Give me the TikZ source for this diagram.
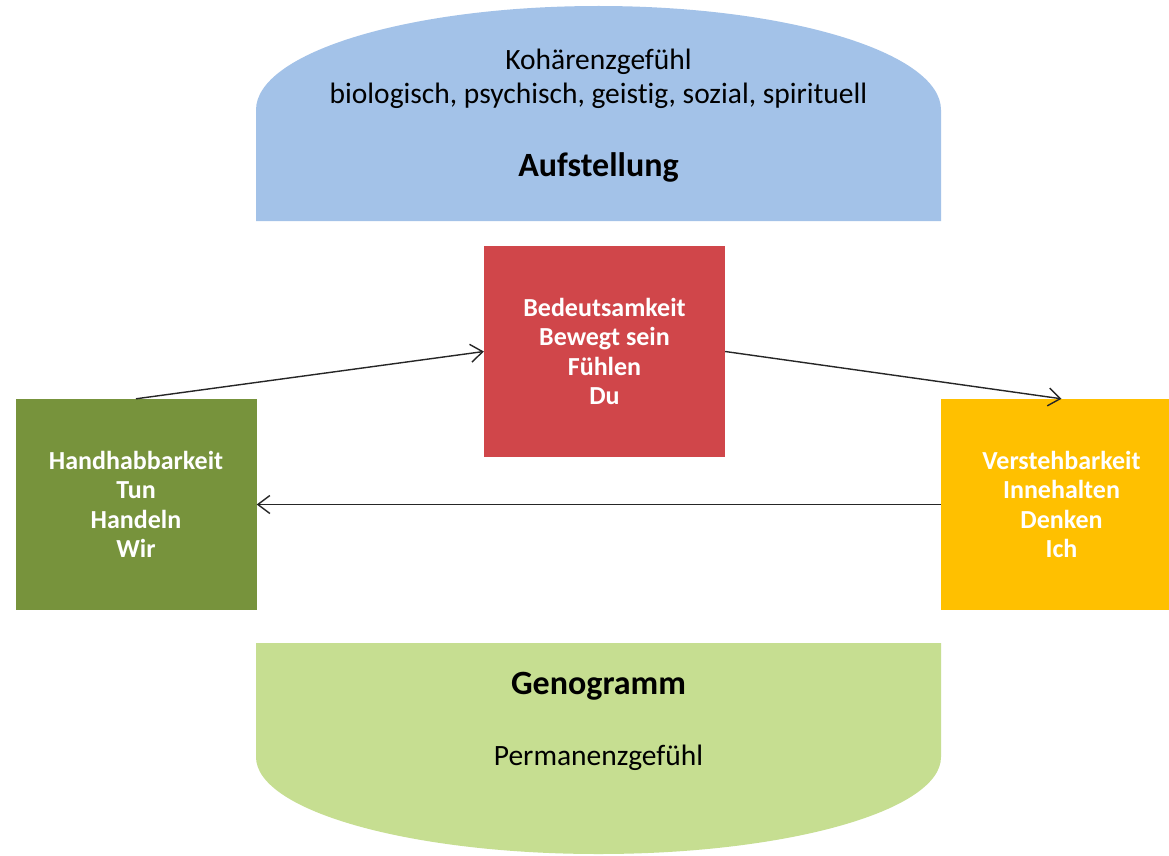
\documentclass[tikz,border=0pt]{standalone}
\usepackage{fontspec}
\setmainfont{Carlito}[Ligatures=CommonOff]
\usetikzlibrary{arrows.meta}
\definecolor{topblue}{RGB}{163,194,232}
\definecolor{botgreen}{RGB}{198,222,145}
\definecolor{boxred}{RGB}{208,70,74}
\definecolor{boxolive}{RGB}{119,147,60}
\definecolor{boxyellow}{RGB}{255,192,0}
\tikzset{
  cardbox/.style={rectangle, minimum width=241pt, minimum height=211pt, inner sep=0pt,
    text=white, align=center, font=\bfseries\fontsize{26}{29.5}\selectfont},
  flowarrow/.style={-{Straight Barb[length=12pt,width=18pt,line width=1.4pt]}, line width=1.4pt, black!85},
  plaintext/.style={inner sep=0pt, font=\fontsize{29.5}{34}\selectfont},
  titletext/.style={inner sep=0pt, font=\bfseries\fontsize{34}{38}\selectfont}
}
\begin{document}
\begin{tikzpicture}[x=1pt,y=-1pt]
\clip (0,0) rectangle (1169,856);
\fill[white] (0,0) rectangle (1169,856);

% upper dome
\fill[topblue] (256,221) -- (256,110)
  arc[start angle=180, end angle=0, x radius=342.5pt, y radius=104pt]
  -- (941,221) -- cycle;
% lower bowl
\fill[botgreen] (256,643) -- (256,757)
  arc[start angle=180, end angle=360, x radius=342.5pt, y radius=97pt]
  -- (941,643) -- cycle;

\node[plaintext] (koh) at (598.5,62) {Kohärenzgefühl};
\node[plaintext] (bio) at (598.5,96) {biologisch, psychisch, geistig, sozial, spirituell};
\node[titletext] (auf) at (598.5,167) {Aufstellung};
\node[titletext] (geno) at (598.5,686) {Genogramm};
\node[plaintext] (perm) at (598.5,758) {Permanenzgefühl};

% the three qualities
\node[cardbox, fill=boxred] (du) at (604.5,351.5) {Bedeutsamkeit\\Bewegt sein\\Fühlen\\Du};
\node[cardbox, fill=boxolive] (wir) at (136,504.5) {Handhabbarkeit\\Tun\\Handeln\\Wir};
\node[cardbox, fill=boxyellow] (ich) at (1061.5,504.5) {Verstehbarkeit\\Innehalten\\Denken\\Ich};

\draw[flowarrow] (wir.north) -- (du.west);
\draw[flowarrow] (du.east) -- (ich.north);
\draw[flowarrow] (ich.west) -- (wir.east);
\end{tikzpicture}
\end{document}
